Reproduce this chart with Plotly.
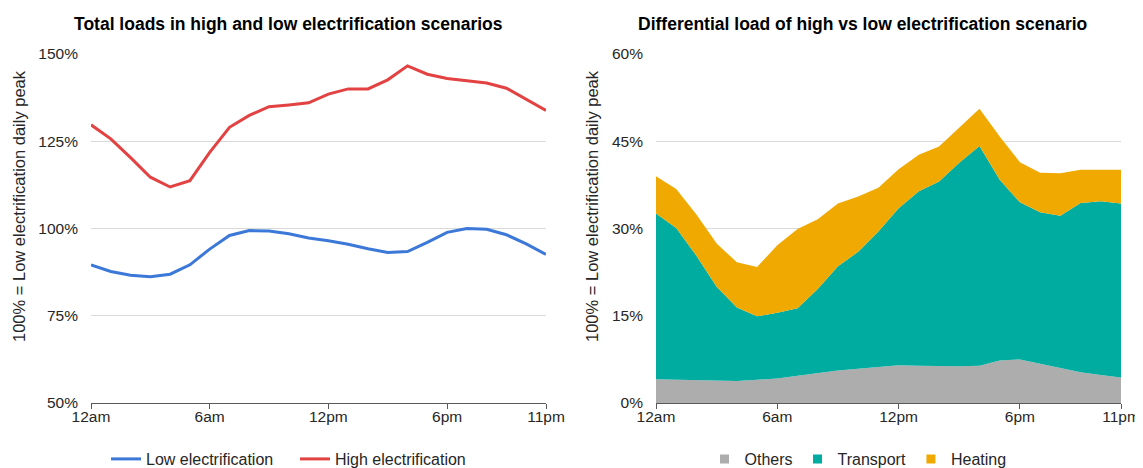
import plotly.graph_objects as go

hours = list(range(24))
tick_hours = [0, 6, 12, 18, 23]
tick_labels = ['12am', '6am', '12pm', '6pm', '11pm']

# left chart: total load, % of low electrification daily peak
low_elec = [89.6, 87.7, 86.6, 86.2, 86.9, 89.6, 94.1, 98.0, 99.4, 99.3, 98.5, 97.3,
            96.5, 95.5, 94.2, 93.1, 93.4, 96.0, 98.9, 100.0, 99.8, 98.2, 95.6, 92.6]
high_elec = [129.7, 125.7, 120.3, 114.7, 111.9, 113.7, 121.8, 129.0, 132.4, 134.9, 135.4, 136.0,
             138.5, 140.0, 140.0, 142.6, 146.6, 144.2, 143.0, 142.3, 141.7, 140.2, 137.1, 133.8]

# right chart: differential load by component
others = [4.1, 4.0, 3.9, 3.8, 3.8, 4.0, 4.2, 4.7, 5.2, 5.6, 5.9, 6.2,
          6.5, 6.4, 6.3, 6.3, 6.4, 7.3, 7.5, 6.8, 6.1, 5.3, 4.8, 4.4]
transport = [28.5, 26.1, 21.4, 16.2, 12.6, 10.9, 11.3, 11.6, 14.4, 17.9, 20.1, 23.3,
             27.0, 30.0, 31.8, 35.0, 37.8, 31.1, 27.0, 26.0, 26.1, 29.1, 29.9, 29.9]
heating = [6.4, 6.7, 7.1, 7.4, 7.8, 8.5, 11.6, 13.6, 12.0, 10.8, 9.5, 7.5,
           6.7, 6.3, 6.0, 6.1, 6.4, 7.4, 6.9, 6.8, 7.3, 5.7, 5.4, 5.8]

# page body has an 8px margin, so the figure is drawn 8px in from the window edge
OFF = 8
W, H = 1143 - OFF, 468 - OFF
FONT = 'Liberation Sans'
TXT = '#262626'
GRID = '#D9D9D9'
AXIS = '#595959'


def px(x):
    return (x - OFF) / W


def py(y):
    return 1 - (y - OFF) / H


fig = go.Figure()

fig.add_trace(go.Scatter(x=hours, y=low_elec, mode='lines', name='Low electrification',
                         line=dict(color='#3C78D8', width=3), xaxis='x', yaxis='y', legend='legend'))
fig.add_trace(go.Scatter(x=hours, y=high_elec, mode='lines', name='High electrification',
                         line=dict(color='#E34242', width=3), xaxis='x', yaxis='y', legend='legend'))

area_colors = {'Others': '#ADADAD', 'Transport': '#00ACA0', 'Heating': '#F0A900'}
for name, vals in [('Others', others), ('Transport', transport), ('Heating', heating)]:
    fig.add_trace(go.Scatter(x=hours, y=vals, mode='lines', stackgroup='diff',
                             line=dict(width=0, color=area_colors[name]),
                             fillcolor=area_colors[name], showlegend=False,
                             xaxis='x2', yaxis='y2'))
    # square legend entries
    fig.add_trace(go.Scatter(x=[None], y=[None], mode='markers', name=name,
                             marker=dict(symbol='square', size=9, color=area_colors[name]),
                             xaxis='x2', yaxis='y2', legend='legend2'))

xax = dict(range=[0, 23], tickvals=tick_hours, ticktext=tick_labels, showgrid=False,
           showline=True, linecolor=AXIS, linewidth=1, ticks='outside', ticklen=5,
           tickcolor=AXIS, tickfont=dict(size=15.5, color=TXT), zeroline=False,
           ticklabelstandoff=-6, automargin=False)
yax = dict(showgrid=True, gridcolor=GRID, gridwidth=1, zeroline=False, showline=False,
           ticksuffix='%', tickfont=dict(size=15.5, color=TXT), ticklabelstandoff=12,
           automargin=False)

y_dom = [py(403), py(54)]
fig.update_layout(
    width=W, height=H,
    margin=dict(l=0, r=0, t=0, b=0, autoexpand=False),
    paper_bgcolor='white', plot_bgcolor='white',
    font=dict(family=FONT, color=TXT),
    xaxis=dict(xax, domain=[px(91), px(546)], anchor='y'),
    yaxis=dict(yax, domain=y_dom, range=[50, 150], dtick=25, anchor='x'),
    xaxis2=dict(xax, domain=[px(656), px(1121)], anchor='y2'),
    yaxis2=dict(yax, domain=y_dom, range=[0, 60], dtick=15, anchor='x2'),
    legend=dict(orientation='h', x=px(295), xanchor='center', y=py(459), yanchor='middle',
                entrywidth=144, entrywidthmode='pixels',
                traceorder='normal', font=dict(size=16, color=TXT), bgcolor='rgba(0,0,0,0)'),
    legend2=dict(orientation='h', x=px(858), xanchor='center', y=py(459), yanchor='middle',
                 traceorder='normal', font=dict(size=16, color=TXT), bgcolor='rgba(0,0,0,0)'),
    showlegend=True,
)

titles = [('Total loads in high and low electrification scenarios', 288),
          ('Differential load of high vs low electrification scenario', 862)]
for text, cx in titles:
    fig.add_annotation(text='<b>' + text + '</b>', x=px(cx), y=py(24), xref='paper', yref='paper',
                       xanchor='center', yanchor='middle', showarrow=False,
                       font=dict(size=17.5, color='#000000', family=FONT))

for cx in [19, 592]:
    fig.add_annotation(text='100% = Low electrification daily peak', x=px(cx), y=py(206),
                       xref='paper', yref='paper', xanchor='center', yanchor='middle',
                       textangle=-90, showarrow=False, font=dict(size=16.5, color=TXT, family=FONT))

fig.write_html('out.html')
